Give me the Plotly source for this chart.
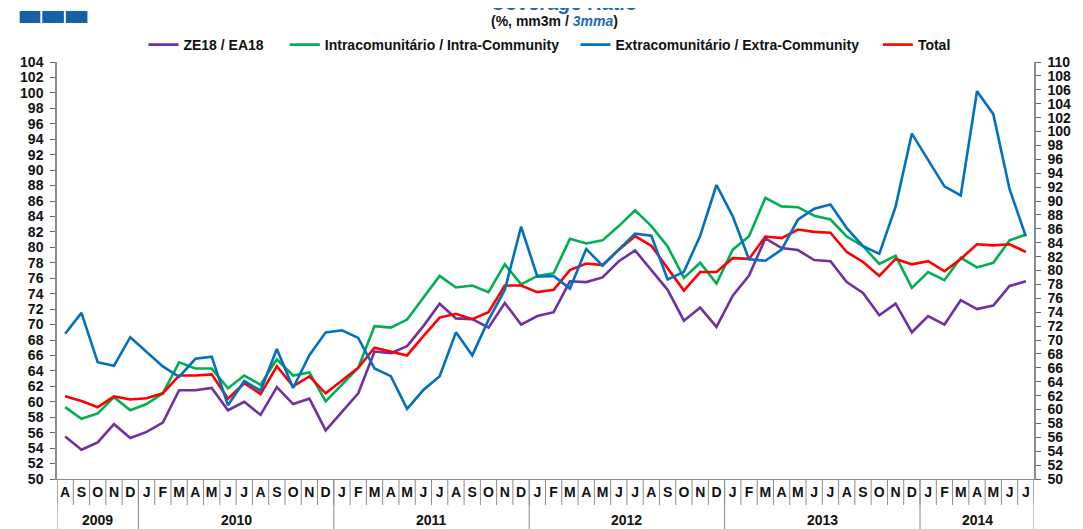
import plotly.graph_objects as go

# ---------------- data ----------------
months = ["A", "S", "O", "N", "D"] + ["J", "F", "M", "A", "M", "J", "J", "A", "S", "O", "N", "D"] * 4 + ["J", "F", "M", "A", "M", "J", "J"]
years = ["2009", "2010", "2011", "2012", "2013", "2014"]
year_counts = [5, 12, 12, 12, 12, 7]

ze18 = [55.5, 53.8, 54.75, 57.1, 55.3, 56.1, 57.3, 61.5, 61.5, 61.8, 58.9, 60.0, 58.3, 61.9, 59.7, 60.4, 56.3,
        58.7, 61.1, 66.5, 66.3, 67.2, 69.8, 72.7, 70.8, 70.7, 69.6, 72.8, 70.0,
        71.1, 71.6, 75.6, 75.5, 76.1, 78.2, 79.6, 77.1, 74.5, 70.5, 72.2, 69.7,
        73.75, 76.35, 81.15, 79.9, 79.65, 78.35, 78.2, 75.5, 74.1, 71.2, 72.7, 69.0,
        71.1, 70.0, 73.15, 72.0, 72.45, 75.0, 75.6]
intra = [59.3, 57.8, 58.5, 60.6, 58.9, 59.7, 61.1, 65.1, 64.3, 64.3, 61.75, 63.4, 62.2, 65.5, 63.4, 63.8, 60.05,
         62.2, 64.4, 69.8, 69.6, 70.65, 73.5, 76.3, 74.8, 75.05, 74.2, 77.8, 75.2,
         76.3, 76.65, 81.1, 80.5, 80.9, 82.75, 84.8, 82.75, 80.1, 76.05, 78.0, 75.3,
         79.7, 81.45, 86.4, 85.3, 85.2, 84.1, 83.6, 81.4, 80.15, 77.85, 78.9, 74.75,
         76.8, 75.75, 78.65, 77.4, 78.0, 80.9, 81.65]
extra = [70.9, 73.9, 66.8, 66.3, 70.4, 68.3, 66.2, 64.7, 67.3, 67.6, 60.6, 64.1, 62.7, 68.7, 63.1, 67.8, 71.1,
         71.4, 70.3, 65.9, 64.8, 60.1, 62.8, 64.8, 71.1, 67.8, 72.9, 77.2, 86.3,
         79.1, 79.2, 77.4, 83.1, 80.7, 83.0, 85.3, 85.0, 78.7, 79.8, 85.0, 92.3,
         87.8, 81.6, 81.4, 83.0, 87.3, 88.9, 89.5, 86.1, 83.5, 82.4, 89.2, 99.7,
         95.9, 92.1, 90.8, 105.8, 102.5, 91.7, 84.9]
total = [60.7, 60.1, 59.3, 60.7, 60.3, 60.45, 61.1, 63.4, 63.4, 63.55, 60.4, 62.4, 61.0, 64.6, 62.0, 63.3, 61.1,
         62.7, 64.4, 67.0, 66.5, 66.0, 68.5, 70.9, 71.4, 70.7, 71.6, 75.05, 75.05,
         74.2, 74.5, 77.05, 77.9, 77.7, 79.7, 81.45, 80.2, 77.3, 74.4, 76.8, 76.8,
         78.6, 78.5, 81.4, 81.2, 82.3, 82.0, 81.9, 79.4, 78.1, 76.3, 78.5, 77.8,
         78.2, 76.9, 78.5, 80.4, 80.25, 80.4, 79.4]

names = ["ZE18 / EA18", "Intracomunitário / Intra-Community", "Extracomunitário / Extra-Community", "Total"]
colors = ["#7030a0", "#00b050", "#0070c0", "#ff0000"]

# unique category keys
keys = []
for y, c in zip(years, year_counts):
    start = 8 if y == "2009" else 1
    for m in range(start, start + c):
        keys.append(f"{y}-{m:02d}")

# ---------------- layout geometry (page pixel coordinates) ----------------
OFF = 8                      # page body margin
W, H = 1083, 529
L, R, T, B = 46, 1041, 62, 479
pw, ph = R - L, B - T

def px(x):
    return (x - L) / pw

def py(y):
    return (B - y) / ph

FONT = "Liberation Sans, Arial"

fig = go.Figure()
series = [ze18, intra, extra, total]
legend_ids = ["legend", "legend2", "legend3", "legend4"]
for s, n, c, lg in zip(series, names, colors, legend_ids):
    fig.add_trace(go.Scatter(
        x=keys, y=s, name=n, mode="lines",
        line=dict(color=c, width=2.6),
        yaxis="y2" if s is extra else "y",
        legend=lg,
    ))

shapes = []
nb = len(keys)
for b in range(nb + 1):
    shapes.append(dict(type="line", xref="x", yref="paper", x0=b - 0.5, x1=b - 0.5,
                       y0=0, y1=py(505), line=dict(color="#8c8c8c", width=1)))
cum = 0
bounds = [0]
for c in year_counts:
    cum += c
    bounds.append(cum)
for b in bounds:
    shapes.append(dict(type="line", xref="x", yref="paper", x0=b - 0.5, x1=b - 0.5,
                       y0=0, y1=py(540), line=dict(color="#8c8c8c", width=1)))
for x0, x1 in [(8, 29), (31, 53), (55, 77)]:
    shapes.append(dict(type="rect", xref="paper", yref="paper", x0=px(x0), x1=px(x1),
                       y0=py(23), y1=py(11), fillcolor="#1560a8", line=dict(width=0)))

annotations = []
for i, y in enumerate(years):
    center = (bounds[i] + bounds[i + 1] - 1) / 2
    annotations.append(dict(x=center, y=py(520), xref="x", yref="paper", text=f"<b>{y}</b>",
                            showarrow=False, font=dict(family=FONT, size=14, color="#111"),
                            xanchor="center", yanchor="middle"))
annotations.append(dict(x=px(563), y=py(3), xref="paper", yref="paper",
                        text="<b><i>Coverage Ratio</i></b>", showarrow=False,
                        font=dict(family=FONT, size=20, color="#1a6bb5"),
                        xanchor="center", yanchor="middle"))
annotations.append(dict(x=px(553), y=py(21), xref="paper", yref="paper",
                        text="<b>(%, mm3m / <i><span style='color:#1a6bb5'>3mma</span></i>)</b>",
                        showarrow=False, font=dict(family=FONT, size=14, color="#111"),
                        xanchor="center", yanchor="middle"))

legfont = dict(family=FONT, size=14, color="#111", weight="bold")
def leg(xpix):
    return dict(orientation="h", x=px(xpix), y=py(45), xanchor="left", yanchor="middle",
                font=legfont, itemwidth=30, bgcolor="rgba(0,0,0,0)", borderwidth=0)

tickfont = dict(family=FONT, size=14, color="#111", weight="bold")
fig.update_layout(
    width=W - OFF, height=H - OFF,
    margin=dict(l=L - OFF, r=W - R, t=T - OFF, b=H - B, pad=0),
    paper_bgcolor="white", plot_bgcolor="white",
    showlegend=True,
    legend=leg(134), legend2=leg(278), legend3=leg(574), legend4=leg(882),
    xaxis=dict(type="category", categoryorder="array", categoryarray=keys,
               range=[-0.5, nb - 0.5], tickmode="array", tickvals=keys, ticktext=months,
               ticks="", showgrid=False, zeroline=False, showline=True, linecolor="#8c8c8c",
               linewidth=1, tickfont=tickfont, tickangle=0),
    yaxis=dict(range=[50, 104], dtick=2, tick0=50, showgrid=False, zeroline=False,
               showline=True, linecolor="#8c8c8c", linewidth=1.5, ticks="outside", ticklen=5,
               tickcolor="#666", tickfont=tickfont, ticklabelstandoff=4),
    yaxis2=dict(range=[50, 110], dtick=2, tick0=50, overlaying="y", side="right",
                showgrid=False, zeroline=False, showline=True, linecolor="#8c8c8c", linewidth=1.5,
                ticks="outside", ticklen=5, tickcolor="#666", tickfont=tickfont, ticklabelstandoff=4),
    shapes=shapes,
    annotations=annotations,
)

fig.write_html("out.html")
